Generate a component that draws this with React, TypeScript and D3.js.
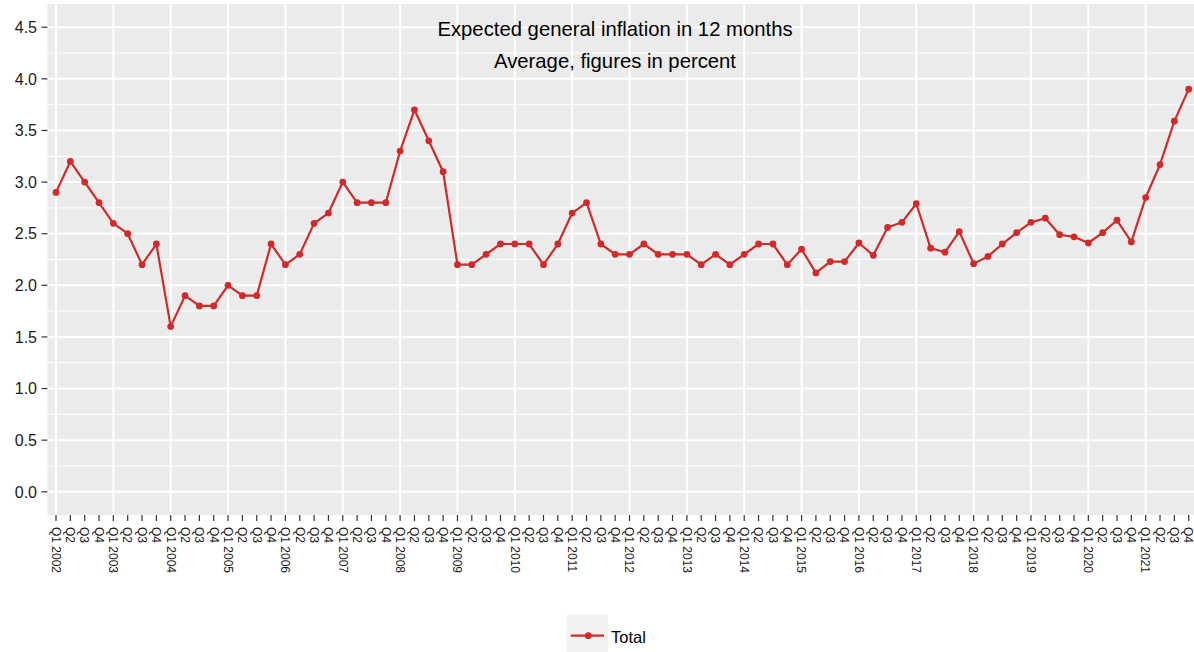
import React from "react";
import * as d3 from "d3";

const years: number[] = [2002, 2003, 2004, 2005, 2006, 2007, 2008, 2009, 2010, 2011, 2012, 2013, 2014, 2015, 2016, 2017, 2018, 2019, 2020, 2021];
const quarters: string[] = ["Q1", "Q2", "Q3", "Q4"];

const totalValues: number[] = [
  2.9, 3.2, 3.0, 2.8,
  2.6, 2.5, 2.2, 2.4,
  1.6, 1.9, 1.8, 1.8,
  2.0, 1.9, 1.9, 2.4,
  2.2, 2.3, 2.6, 2.7,
  3.0, 2.8, 2.8, 2.8,
  3.3, 3.7, 3.4, 3.1,
  2.2, 2.2, 2.3, 2.4,
  2.4, 2.4, 2.2, 2.4,
  2.7, 2.8, 2.4, 2.3,
  2.3, 2.4, 2.3, 2.3,
  2.3, 2.2, 2.3, 2.2,
  2.3, 2.4, 2.4, 2.2,
  2.35, 2.12, 2.23, 2.23,
  2.41, 2.29, 2.56, 2.61,
  2.79, 2.36, 2.32, 2.52,
  2.21, 2.28, 2.40, 2.51,
  2.61, 2.65, 2.49, 2.47,
  2.41, 2.51, 2.63, 2.42,
  2.85, 3.17, 3.59, 3.90,
];

const yTicks: number[] = [0, 0.5, 1.0, 1.5, 2.0, 2.5, 3.0, 3.5, 4.0, 4.5];
const yMinor: number[] = [0.25, 0.75, 1.25, 1.75, 2.25, 2.75, 3.25, 3.75, 4.25, 4.75, -0.25];

const titleLines: string[] = ["Expected general inflation in 12 months", "Average, figures in percent"];
const seriesName = "Total";

const categories: string[] = years.flatMap((y) => quarters.map((q) => `${q} ${y}`));
const tickLabels: string[] = years.flatMap((y) => quarters.map((q) => (q === "Q1" ? `${q} ${y}` : q)));

const W = 1194;
const H = 652;
const RED = "#d02a2a";
const FONT = "'Liberation Sans', Arial, sans-serif";

export default function App() {
  const firstX = 56;
  const lastX = 1188.7;
  const x = d3.scalePoint<string>().domain(categories).range([firstX, lastX]);
  const step = (lastX - firstX) / (categories.length - 1);
  const panelLeft = firstX - 0.6 * step;
  const panelRight = lastX + 0.6 * step;
  const panelTop = 4;
  const panelBottom = 515;
  const y = d3.scaleLinear().domain([-0.225, 4.725]).range([panelBottom, panelTop]);

  const data = categories.map((c, i) => ({ c, v: totalValues[i] }));
  const line = d3
    .line<{ c: string; v: number }>()
    .x((d) => x(d.c) as number)
    .y((d) => y(d.v));

  return (
    <div style={{ position: "absolute", left: 0, top: 0 }}>
      <svg width={W} height={H} style={{ display: "block", fontFamily: FONT }}>
        <rect x={0} y={0} width={W} height={H} fill="#ffffff" />
        <clipPath id="panelClip">
          <rect x={panelLeft} y={panelTop} width={panelRight - panelLeft} height={panelBottom - panelTop} />
        </clipPath>
        <rect x={panelLeft} y={panelTop} width={panelRight - panelLeft} height={panelBottom - panelTop} fill="#ebebeb" />
        <g clipPath="url(#panelClip)">
          {yMinor.map((t) => (
            <line key={"mi" + t} x1={panelLeft} x2={panelRight} y1={y(t)} y2={y(t)} stroke="#ffffff" strokeWidth={1} />
          ))}
          {yTicks.map((t) => (
            <line key={"ma" + t} x1={panelLeft} x2={panelRight} y1={y(t)} y2={y(t)} stroke="#ffffff" strokeWidth={2} />
          ))}
          {categories.map((c, i) =>
            i % 4 === 0 ? (
              <line key={"vx" + c} x1={x(c)} x2={x(c)} y1={panelTop} y2={panelBottom} stroke="#ffffff" strokeWidth={2} />
            ) : null
          )}
          {titleLines.map((t, i) => (
            <text key={t} x={615} y={35.5 + i * 32.5} textAnchor="middle" fontSize={20.3} fill="#000000">
              {t}
            </text>
          ))}
          <path d={line(data) || ""} fill="none" stroke={RED} strokeWidth={2.2} strokeLinejoin="round" />
          {data.map((d) => (
            <circle key={d.c} cx={x(d.c)} cy={y(d.v)} r={3.4} fill={RED} />
          ))}
        </g>
        {/* y axis */}
        {yTicks.map((t) => (
          <g key={"yt" + t}>
            <line x1={41.5} x2={panelLeft} y1={y(t)} y2={y(t)} stroke="#333333" strokeWidth={1.2} />
            <text x={37} y={y(t)} dy="0.36em" textAnchor="end" fontSize={16} fill="#1a1a1a">
              {d3.format(".1f")(t)}
            </text>
          </g>
        ))}
        {/* x axis */}
        {categories.map((c, i) => (
          <g key={"xt" + c}>
            <line x1={x(c)} x2={x(c)} y1={panelBottom} y2={panelBottom + 6} stroke="#333333" strokeWidth={1.2} />
            <text
              transform={`translate(${x(c)},${panelBottom + 12}) rotate(90)`}
              dy="0.35em"
              textAnchor="start"
              fontSize={12}
              fill="#1a1a1a"
            >
              {tickLabels[i]}
            </text>
          </g>
        ))}
        {/* legend */}
        <rect x={566.7} y={615} width={41.3} height={37} fill="#f2f2f2" />
        <line x1={570.7} x2={604} y1={635.7} y2={635.7} stroke={RED} strokeWidth={2.2} />
        <circle cx={588.3} cy={635.7} r={3.4} fill={RED} />
        <text x={611} y={642.5} fontSize={16.5} fill="#000000">
          {seriesName}
        </text>
      </svg>
    </div>
  );
}
